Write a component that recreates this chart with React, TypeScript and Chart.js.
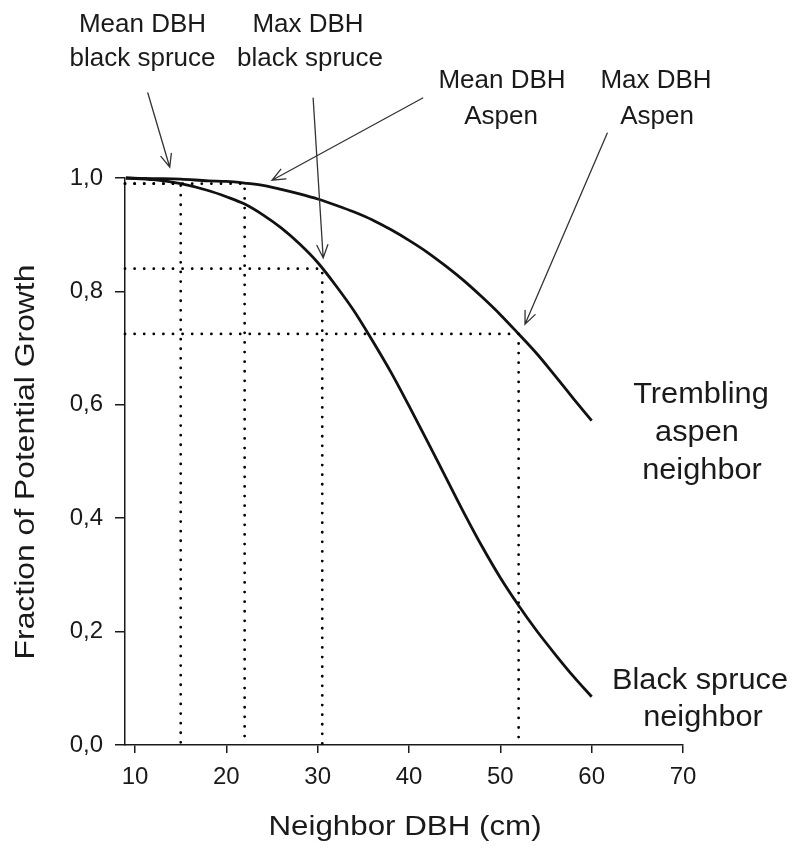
import { useEffect, useRef } from 'react';
import { Chart, registerables } from 'chart.js';

Chart.register(...registerables);

// Neighbour stem diameter (cm) at which both growth curves are sampled
const neighborDbh = [9, 12, 15, 18, 20, 22, 24, 26, 28, 30, 32, 34, 36, 38, 40, 42, 44, 46, 48, 50, 52, 54, 56, 58, 60];
// Fraction of potential growth with a black spruce neighbour
const spruceGrowth = [1.0, 0.997, 0.99, 0.978, 0.967, 0.954, 0.935, 0.912, 0.884, 0.851, 0.81, 0.765, 0.713, 0.658, 0.598, 0.536, 0.473, 0.41, 0.35, 0.295, 0.246, 0.201, 0.16, 0.121, 0.085];
// Fraction of potential growth with a trembling aspen neighbour
const aspenGrowth = [1.0, 0.999, 0.998, 0.995, 0.994, 0.991, 0.987, 0.98, 0.972, 0.963, 0.952, 0.94, 0.926, 0.909, 0.89, 0.869, 0.845, 0.819, 0.79, 0.759, 0.725, 0.69, 0.651, 0.611, 0.572];

// Reference diameters (mean / max DBH of each species) and growth read at each
const markerDbh = [15, 22, 30.5, 52];
const markerGrowth = [0.99, 0.99, 0.84, 0.725];

const xTicks = [10, 20, 30, 40, 50, 60, 70];
const yTicks = [0, 0.2, 0.4, 0.6, 0.8, 1.0];
const X_MIN = 8.9;
const X_MAX = 70;

// Callout arrows in data units: [tail, head]
const arrowTails = [[11.4, 1.15], [29.5, 1.141], [41.5, 1.141], [61.7, 1.079]];
const arrowHeads = [[13.8, 1.019], [30.6, 0.859], [25.0, 0.996], [52.7, 0.742]];

const FONT = "'Liberation Sans', Arial, Helvetica, sans-serif";
const INK = '#1a1a1a';

type Label = { text: string; x: number; y: number; size: number; sx: number };

const labels: Label[] = [
  { text: 'Mean DBH', x: 142.5, y: 32, size: 25, sx: 1.04 },
  { text: 'black spruce', x: 142.5, y: 66, size: 25, sx: 1.04 },
  { text: 'Max DBH', x: 308, y: 32, size: 25, sx: 1.04 },
  { text: 'black spruce', x: 310, y: 66, size: 25, sx: 1.04 },
  { text: 'Mean DBH', x: 502, y: 88, size: 25, sx: 1.04 },
  { text: 'Aspen', x: 501, y: 124, size: 25, sx: 1.04 },
  { text: 'Max DBH', x: 656, y: 88, size: 25, sx: 1.04 },
  { text: 'Aspen', x: 657, y: 124, size: 25, sx: 1.04 },
  { text: 'Trembling', x: 701, y: 403, size: 29, sx: 1.06 },
  { text: 'aspen', x: 697, y: 441, size: 29, sx: 1.06 },
  { text: 'neighbor', x: 702, y: 479, size: 29, sx: 1.06 },
  { text: 'Black spruce', x: 700, y: 689, size: 29, sx: 1.06 },
  { text: 'neighbor', x: 703, y: 726, size: 29, sx: 1.06 },
];

function drawText(ctx: CanvasRenderingContext2D, text: string, x: number, y: number, size: number, sx: number, angle = 0) {
  ctx.save();
  ctx.translate(x, y);
  if (angle) ctx.rotate(angle);
  ctx.scale(sx, 1);
  ctx.font = `${size}px ${FONT}`;
  ctx.fillStyle = INK;
  ctx.textAlign = 'center';
  ctx.textBaseline = 'alphabetic';
  ctx.fillText(text, 0, 0);
  ctx.restore();
}

const calloutPlugin = {
  id: 'callouts',
  afterDraw(chart: Chart) {
    const { ctx } = chart;
    const xs = chart.scales.x;
    const ys = chart.scales.y;

    // arrows
    ctx.save();
    ctx.strokeStyle = '#333';
    ctx.lineWidth = 1.3;
    ctx.lineCap = 'round';
    for (let i = 0; i < arrowTails.length; i++) {
      const x0 = xs.getPixelForValue(arrowTails[i][0]);
      const y0 = ys.getPixelForValue(arrowTails[i][1]);
      const x1 = xs.getPixelForValue(arrowHeads[i][0]);
      const y1 = ys.getPixelForValue(arrowHeads[i][1]);
      const a = Math.atan2(y1 - y0, x1 - x0);
      const len = 14;
      const spread = 0.4;
      ctx.beginPath();
      ctx.moveTo(x0, y0);
      ctx.lineTo(x1, y1);
      ctx.moveTo(x1 - len * Math.cos(a - spread), y1 - len * Math.sin(a - spread));
      ctx.lineTo(x1, y1);
      ctx.lineTo(x1 - len * Math.cos(a + spread), y1 - len * Math.sin(a + spread));
      ctx.stroke();
    }
    ctx.restore();

    for (const l of labels) drawText(ctx, l.text, l.x, l.y, l.size, l.sx);

    // axis titles
    drawText(ctx, 'Neighbor DBH (cm)', 405, 835, 27, 1.16);
    drawText(ctx, 'Fraction of Potential Growth', 34, 462, 27, 1.18, -Math.PI / 2);
  },
};

export default function App() {
  const ref = useRef<HTMLCanvasElement>(null);

  useEffect(() => {
    const canvas = ref.current;
    if (!canvas) return;

    const curve = (ys: number[]) => neighborDbh.map((x, i) => ({ x, y: ys[i] }));
    const markerPaths = markerDbh.map((m, i) => ({
      data: [
        { x: X_MIN, y: markerGrowth[i] },
        { x: m, y: markerGrowth[i] },
        { x: m, y: 0 },
      ],
      borderColor: '#000',
      borderWidth: 2.8,
      borderDash: [0, 9.6],
      borderCapStyle: 'round' as const,
      pointRadius: 0,
      tension: 0,
      clip: false as const,
    }));

    const tickFont = { family: FONT, size: 24 };

    const chart = new Chart(canvas, {
      type: 'line',
      data: {
        datasets: [
          ...markerPaths,
          {
            data: curve(spruceGrowth),
            borderColor: '#111',
            borderWidth: 2.8,
            pointRadius: 0,
            cubicInterpolationMode: 'monotone',
            clip: false as const,
          },
          {
            data: curve(aspenGrowth),
            borderColor: '#111',
            borderWidth: 2.8,
            pointRadius: 0,
            cubicInterpolationMode: 'monotone',
            clip: false as const,
          },
        ],
      },
      options: {
        animation: false,
        responsive: false,
        devicePixelRatio: 1,
        events: [],
        layout: { padding: { top: 178, right: 110, left: 0, bottom: 0 } },
        plugins: { legend: { display: false }, tooltip: { enabled: false } },
        scales: {
          x: {
            type: 'linear',
            min: X_MIN,
            max: X_MAX,
            afterBuildTicks: (s: any) => {
              s.ticks = xTicks.map((v) => ({ value: v }));
            },
            afterFit: (s: any) => {
              s.height = 107;
            },
            grid: { drawOnChartArea: false, tickLength: 8, color: INK, lineWidth: 1.5 },
            border: { color: INK, width: 1.5 },
            ticks: { font: tickFont, color: INK, padding: 10, maxRotation: 0, autoSkip: false },
          },
          y: {
            type: 'linear',
            min: 0,
            max: 1,
            afterBuildTicks: (s: any) => {
              s.ticks = yTicks.map((v) => ({ value: v }));
            },
            afterFit: (s: any) => {
              s.width = 125;
            },
            grid: { drawOnChartArea: false, tickLength: 10, color: INK, lineWidth: 1.5 },
            border: { color: INK, width: 1.5 },
            ticks: {
              font: tickFont,
              color: INK,
              padding: 12,
              autoSkip: false,
              callback: (v: any) => Number(v).toFixed(1).replace('.', ','),
            },
          },
        },
      },
      plugins: [calloutPlugin],
    });

    return () => chart.destroy();
  }, []);

  return (
    <div style={{ position: 'absolute', left: 0, top: 0, width: 793, height: 852, background: '#fff' }}>
      <canvas ref={ref} width={793} height={852} style={{ display: 'block' }} />
    </div>
  );
}
